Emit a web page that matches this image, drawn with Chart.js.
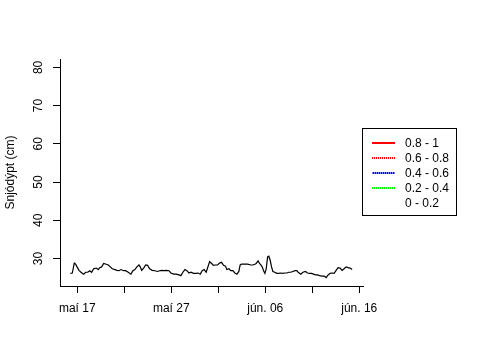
<!DOCTYPE html>
<html>
<head>
<meta charset="utf-8">
<script src="https://cdn.jsdelivr.net/npm/chart.js@4"></script>
<style>
  html, body { margin: 0; padding: 0; background: #fff; }
  canvas { display: block; }
</style>
</head>
<body>
<canvas id="chart" width="480" height="360"></canvas>
<script>
(function () {

    'use strict';

    // day of the series, counted from 1 May (32 = 1 June)
    var days = [16.26, 16.47, 16.68, 16.83, 16.97, 17.18, 17.39, 17.68, 17.89, 18.11,
        18.32, 18.53, 18.74, 19.02, 19.23, 19.38, 19.59, 19.81, 20.08, 20.30,
        20.51, 20.72, 21.01, 21.22, 21.43, 21.65, 21.93,
        22.15, 22.42, 22.71, 22.92, 23.13, 23.34, 23.56, 23.70, 23.85, 24.06,
        24.27, 24.48, 24.70, 24.97, 25.26, 25.55, 25.76, 25.97, 26.19, 26.46,
        26.75, 26.96, 27.25, 27.53, 27.81, 28.02,
        28.24, 28.45, 28.66, 28.88, 29.09, 29.37, 29.65, 29.86, 30.08, 30.29,
        30.50, 30.71, 30.86, 31.08, 31.29, 31.50, 31.71, 31.92, 32.14, 32.35,
        32.56, 32.77, 32.91, 33.13, 33.34, 33.55, 33.76, 33.98, 34.19, 34.33,
        34.48, 34.75, 35.12, 35.47, 35.68, 35.89, 36.03, 36.24, 36.39, 36.53,
        36.67, 36.82, 36.96, 37.10, 37.25, 37.38, 37.52, 37.67, 37.81, 38.02,
        38.23, 38.45, 38.66, 38.87, 39.08, 39.30, 39.51, 39.72, 39.93, 40.15,
        40.36, 40.50,
        40.78, 41.00, 41.28, 41.50, 41.71, 41.92, 42.13, 42.35, 42.56, 42.77,
        43.05, 43.27, 43.48, 43.69, 43.90, 44.12, 44.33, 44.54, 44.75, 44.96,
        45.18, 45.39, 45.60, 45.82, 46.03, 46.24];

    // snow depth in cm
    var depth = [26.1, 26.2, 28.8, 28.5, 27.8, 26.9, 26.4, 25.9, 26.4, 26.4,
        26.8, 26.4, 27.3, 27.5, 27.1, 27.6, 27.8, 28.7, 28.5, 28.3,
        27.8, 27.3, 27.1, 26.9, 26.8, 27.1, 26.8,
        26.8, 26.4, 25.9, 26.8, 27.1, 27.8, 28.3, 27.8, 26.9, 27.5,
        28.3, 28.2, 27.3, 26.9, 26.8, 26.6, 26.8, 26.9, 26.8, 26.9,
        26.8, 26.2, 25.9, 25.9, 25.7, 25.5,
        26.4, 27.1, 26.8, 26.2, 26.4, 26.1, 26.1, 26.2, 25.9, 26.8,
        27.1, 26.4, 27.5, 29.2, 28.7, 28.2, 28.3, 28.3, 28.8, 29.0,
        28.2, 28.0, 27.1, 27.3, 26.8, 26.8, 26.2, 25.9, 26.6, 28.3,
        28.5, 28.5, 28.5, 28.3, 28.3, 28.5, 28.7, 29.4, 28.7, 28.3,
        27.8, 26.8, 26.1, 27.3, 30.4, 30.6, 29.6, 27.8, 26.6, 26.4,
        26.1, 26.1, 26.2, 26.1, 26.2, 26.2, 26.4, 26.4, 26.6, 26.8,
        26.8, 26.4,
        25.9, 26.4, 26.6, 26.2, 26.1, 26.1, 25.9, 25.7, 25.7, 25.5,
        25.4, 25.4, 25.0, 25.7, 26.1, 26.2, 26.1, 26.9, 27.6, 27.5,
        26.9, 27.3, 27.8, 27.6, 27.5, 27.1];

    var xTickDays = [17, 22, 27, 32, 37, 42, 47];
    var xTickLabels = ['maí 17', '', 'maí 27', '', 'jún. 06', '', 'jún. 16'];
    var yTicks = [30, 40, 50, 60, 70, 80];
    var legendLabels = ['0.8 - 1', '0.6 - 0.8', '0.4 - 0.6', '0.2 - 0.4', '0 - 0.2'];

    var FONT = '"Liberation Sans", Arial, sans-serif';
    Chart.defaults.font.family = FONT;
    Chart.defaults.font.size = 12;
    Chart.defaults.color = '#000';

    // line swatches of the legend: base colour, dotted overlay colour
    var swatches = [
        {base: '#ff0000', dots: null},
        {base: '#ffff00', dots: '#ff0000'},
        {base: '#0000ff', dots: '#7f7fff'},
        {base: '#ffff00', dots: '#00ff00'},
        {base: null, dots: null}
    ];

    var rangeLegend = {
        id: 'rangeLegend',
        afterDraw: function (chart) {
            var ctx = chart.ctx;
            ctx.save();
            ctx.strokeStyle = '#000';
            ctx.lineWidth = 1;
            ctx.strokeRect(362.5, 128.5, 94, 87);

            ctx.font = '12px ' + FONT;
            ctx.textBaseline = 'middle';
            ctx.textAlign = 'left';
            for (var i = 0; i < legendLabels.length; i++) {
                var y = 143 + 15 * i;
                var sw = swatches[i];
                if (sw.base) {
                    ctx.setLineDash([]);
                    ctx.strokeStyle = sw.base;
                    ctx.lineWidth = 2;
                    ctx.beginPath();
                    ctx.moveTo(372, y);
                    ctx.lineTo(395, y);
                    ctx.stroke();
                }
                if (sw.dots) {
                    ctx.setLineDash([1, 1]);
                    ctx.strokeStyle = sw.dots;
                    ctx.lineWidth = 2;
                    ctx.beginPath();
                    ctx.moveTo(372, y);
                    ctx.lineTo(395, y);
                    ctx.stroke();
                }
                ctx.setLineDash([]);
                ctx.fillStyle = '#000';
                ctx.fillText(legendLabels[i], 405, y + 1);
            }
            ctx.restore();
        }
    };

    var points = days.map(function (d, i) {
        return {x: d, y: depth[i]};
    });

    new Chart(document.getElementById('chart'), {
        type: 'line',
        data: {
            datasets: [{
                data: points,
                borderColor: '#000',
                borderWidth: 1.2,
                pointRadius: 0,
                tension: 0,
                fill: false
            }]
        },
        options: {
            responsive: false,
            animation: false,
            events: [],
            layout: {padding: {top: 59, right: 117, bottom: 0, left: 0}},
            plugins: {legend: {display: false}, tooltip: {enabled: false}},
            scales: {
                x: {
                    type: 'linear',
                    min: 15.16,
                    max: 47.4,
                    afterBuildTicks: function (scale) {
                        scale.ticks = xTickDays.map(function (v) { return {value: v}; });
                    },
                    afterFit: function (scale) { scale.height = 74; },
                    ticks: {
                        autoSkip: false,
                        maxRotation: 0,
                        padding: 8,
                        callback: function (value) {
                            var i = xTickDays.indexOf(value);
                            return i < 0 ? '' : xTickLabels[i];
                        }
                    },
                    grid: {drawOnChartArea: false, drawTicks: true, tickLength: 7, color: '#000'},
                    border: {display: true, color: '#000', width: 1}
                },
                y: {
                    min: 22.8,
                    max: 82.2,
                    afterBuildTicks: function (scale) {
                        scale.ticks = yTicks.map(function (v) { return {value: v}; });
                    },
                    afterFit: function (scale) { scale.width = 60; },
                    ticks: {
                        minRotation: 90,
                        maxRotation: 90,
                        crossAlign: 'center',
                        padding: 8
                    },
                    grid: {drawOnChartArea: false, drawTicks: true, tickLength: 7, color: '#000'},
                    border: {display: true, color: '#000', width: 1},
                    title: {
                        display: true,
                        text: 'Snjódýpt (cm)',
                        padding: {top: 3, bottom: 0}
                    }
                }
            }
        },
        plugins: [rangeLegend]
    });
}());
</script>
</body>
</html>
